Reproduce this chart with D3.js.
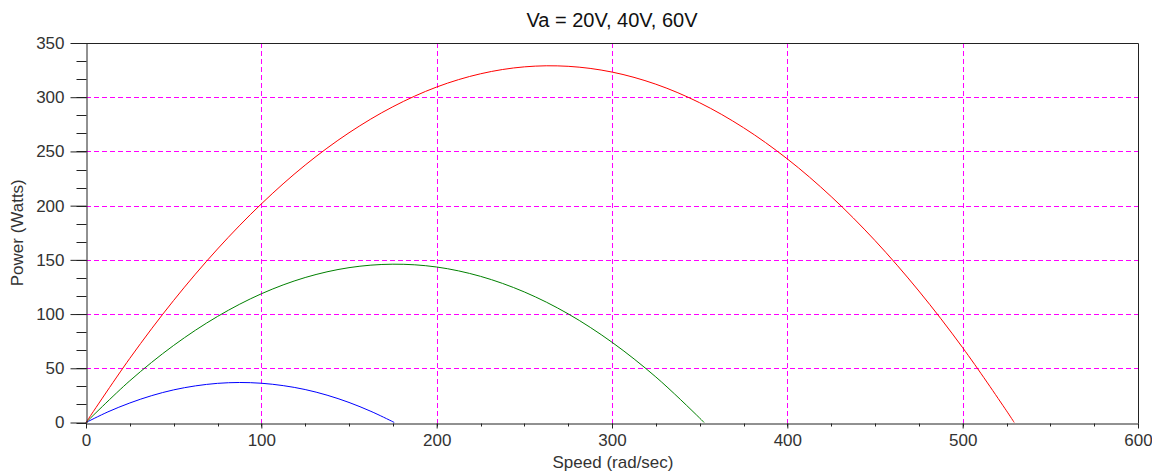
<!DOCTYPE html>
<html>
<head>
<meta charset="utf-8">
<script src="https://cdn.jsdelivr.net/npm/d3@7"></script>
<style>
  body { margin: 0; background: #fff; }
  text { font-family: "Liberation Sans", Arial, sans-serif; fill: #333; }
</style>
</head>
<body>
<svg id="chart" width="1152" height="473"></svg>
<script>
// values (speed rad/sec -> power W)
const speed60 = [0, 25, 50, 75, 100, 125, 150, 175, 200, 225, 250, 275, 300, 325, 350, 375, 400, 425, 450, 475, 500, 525, 529.4];
const power60 = [0, 59.2, 112.6, 160.0, 201.6, 237.4, 267.2, 291.2, 309.4, 321.6, 328.0, 328.5, 323.2, 312.0, 294.9, 271.9, 243.1, 208.4, 167.8, 121.3, 69.0, 10.8, 0];

const speed40 = [0, 25, 50, 75, 100, 125, 150, 175, 200, 225, 250, 275, 300, 325, 350, 352.5];
const power40 = [0, 38.5, 71.1, 97.8, 118.7, 133.7, 142.8, 146.0, 143.4, 134.8, 120.4, 100.2, 74.0, 42.0, 4.1, 0];

const speed20 = [0, 12.5, 25, 37.5, 50, 62.5, 75, 87.5, 100, 112.5, 125, 137.5, 150, 162.5, 175, 175.8];
const power20 = [0, 9.8, 18.0, 24.8, 30.1, 33.8, 36.1, 36.9, 36.2, 34.0, 30.4, 25.2, 18.5, 10.3, 0.7, 0];

const xTicks = [0, 100, 200, 300, 400, 500, 600];
const yTicks = [0, 50, 100, 150, 200, 250, 300, 350];
const title = 'Va = 20V, 40V, 60V';

const series = [
  { xs: speed20, ys: power20, color: '#0000ff' },
  { xs: speed40, ys: power40, color: '#008000' },
  { xs: speed60, ys: power60, color: '#ff0000' }
];

const box = { left: 86, right: 1138, top: 43, bottom: 422.5 };
const svg = d3.select('#chart');

const x = d3.scaleLinear().domain([0, 600]).range([box.left, box.right]);
const y = d3.scaleLinear().domain([0, 350]).range([box.bottom, box.top]);

/// grid, one dashed path, crisp pixels
const px = v => Math.round(v) + 0.5;
const gridPath = d3.path();
xTicks.slice(1, -1).forEach(d => {
  gridPath.moveTo(px(x(d)), Math.round(box.top));
  gridPath.lineTo(px(x(d)), Math.round(box.bottom));
});
yTicks.slice(1, -1).forEach(d => {
  gridPath.moveTo(Math.round(box.left), px(y(d)));
  gridPath.lineTo(Math.round(box.right), px(y(d)));
});
svg.append('path')
  .attr('d', gridPath.toString())
  .attr('fill', 'none')
  .attr('stroke', '#ff00ff')
  .attr('stroke-width', 1)
  .attr('stroke-dasharray', '5,3')
  .attr('shape-rendering', 'crispEdges');

/// curves
const line = d3.line()
  .x(d => x(d[0]))
  .y(d => y(d[1]))
  .curve(d3.curveCatmullRom);
series.forEach(s => {
  svg.append('path')
    .datum(d3.zip(s.xs, s.ys))
    .attr('fill', 'none')
    .attr('stroke', s.color)
    .attr('stroke-width', 1)
    .attr('d', line);
});

/// axes
const xMinor = d3.range(0, 601, 25);
const yMinor = d3.range(0, 351, 50 / 3);

const xAxis = svg.append('g')
  .attr('transform', `translate(0,${px(box.bottom)})`)
  .call(d3.axisBottom(x).tickValues(xTicks).tickSize(5).tickSizeOuter(0).tickPadding(5));
xAxis.selectAll('line.minor')
  .data(xMinor)
  .enter().append('line')
  .attr('class', 'minor')
  .attr('x1', d => px(x(d))).attr('x2', d => px(x(d)))
  .attr('y1', 0).attr('y2', 3)
  .attr('stroke', '#222');

const yAxis = svg.append('g')
  .attr('transform', `translate(${px(box.left)},0)`)
  .call(d3.axisLeft(y).tickValues(yTicks).tickSize(16).tickSizeOuter(0).tickPadding(6));
yAxis.selectAll('line.minor')
  .data(yMinor)
  .enter().append('line')
  .attr('class', 'minor')
  .attr('y1', d => px(y(d))).attr('y2', d => px(y(d)))
  .attr('x1', 0).attr('x2', -10)
  .attr('stroke', '#222');

[xAxis, yAxis].forEach(a => {
  a.select('.domain').attr('stroke', '#222');
  a.selectAll('.tick line').attr('stroke', '#222');
  a.selectAll('.tick text')
    .style('font-size', '17px')
    .style('font-family', '"Liberation Sans", Arial, sans-serif')
    .attr('fill', '#333');
});

// top and right borders of the box
svg.append('path')
  .attr('d', `M${Math.round(box.left)},${px(box.top)}H${px(box.right)}V${Math.round(box.bottom)}`)
  .attr('fill', 'none')
  .attr('stroke', '#222');

/// labels
svg.append('text')
  .attr('x', (box.left + box.right) / 2)
  .attr('y', 27)
  .attr('text-anchor', 'middle')
  .style('font-size', '20px')
  .style('fill', '#111')
  .text(title);

svg.append('text')
  .attr('x', (box.left + box.right) / 2 + 1)
  .attr('y', 468)
  .attr('text-anchor', 'middle')
  .style('font-size', '17px')
  .text('Speed (rad/sec)');

svg.append('text')
  .attr('transform', `translate(23,${(box.top + box.bottom) / 2}) rotate(-90)`)
  .attr('text-anchor', 'middle')
  .style('font-size', '17px')
  .text('Power (Watts)');
</script>
</body>
</html>
